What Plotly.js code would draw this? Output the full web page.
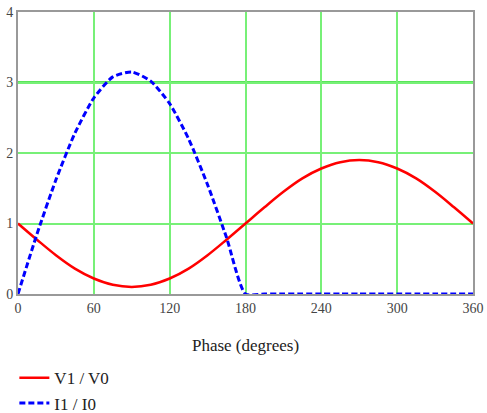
<!DOCTYPE html>
<html>
<head>
<script src="https://cdn.plot.ly/plotly-3.0.1.min.js"></script>
<style>
body{margin:0;padding:0;background:#fff;font-family:'Liberation Serif';}
#chart{position:relative;z-index:1;width:487px;height:413px;}
#fontwarm{position:absolute;left:330px;top:385px;z-index:0;font-family:'Liberation Serif';font-size:12px;color:#fff;}
</style>
</head>
<body>
<div id="fontwarm">Phase 0123456789</div>
<div id="chart"></div>
<script>
var phase = [0,15,30,45,60,75,90,105,120,135,150,165,180,195,210,225,240,255,270,285,300,315,330,345,360];
var v1v0 = [1.0,0.77,0.55,0.36,0.22,0.13,0.10,0.13,0.22,0.36,0.55,0.77,1.0,1.23,1.45,1.64,1.78,1.87,1.90,1.87,1.78,1.64,1.45,1.23,1.0];
var i1i0 = [0,0.85,1.62,2.28,2.78,3.08,3.15,3.02,2.70,2.20,1.55,0.80,0,0,0,0,0,0,0,0,0,0,0,0,0];
var xTicks = [0,60,120,180,240,300,360];
var yTicks = [0,1,2,3,4];

var serif = 'Liberation Serif';
var traces = [
  {x: phase, y: v1v0, name: 'V1 / V0', mode: 'lines', line: {color: '#ff0000', width: 2.5, shape: 'spline'}},
  {x: phase, y: i1i0, name: 'I1 / I0', mode: 'lines', line: {color: '#0000ff', width: 3, dash: '6px,3px', shape: 'spline', smoothing: 0.6}}
];
var layout = {
  width: 487, height: 413,
  margin: {l: 18, r: 14, t: 12, b: 119, autoexpand: false},
  paper_bgcolor: '#fff', plot_bgcolor: '#fff',
  font: {family: serif, color: '#444', size: 14},
  xaxis: {range: [0,360], tickvals: xTicks, ticktext: xTicks.map(String), showgrid: true, gridcolor: '#77f077', gridwidth: 2,
          showline: true, linecolor: '#999', linewidth: 2, mirror: true, zeroline: false, ticks: '',
          title: {text: 'Phase (degrees)', font: {size: 17, color: '#222'}, standoff: 24}},
  yaxis: {range: [0,4], tickvals: yTicks, ticktext: yTicks.map(String), showgrid: true, gridcolor: '#77f077', gridwidth: 2,
          showline: true, linecolor: '#999', linewidth: 2, mirror: true, zeroline: false, ticks: '', ticklabelstandoff: 0},
  shapes: [{type: 'line', xref: 'paper', x0: 0, x1: 1, yref: 'y', y0: 3, y1: 3, line: {color: '#22dd22', width: 2.5}, layer: 'below'}],
  showlegend: true,
  legend: {x: -0.008, y: -0.235, xanchor: 'left', yanchor: 'top', orientation: 'v', font: {size: 17, color: '#222'}, tracegroupgap: 0, bgcolor: 'rgba(0,0,0,0)'}
};
Plotly.newPlot('chart', traces, layout, {displayModeBar: false, staticPlot: true});
</script>
</body>
</html>
